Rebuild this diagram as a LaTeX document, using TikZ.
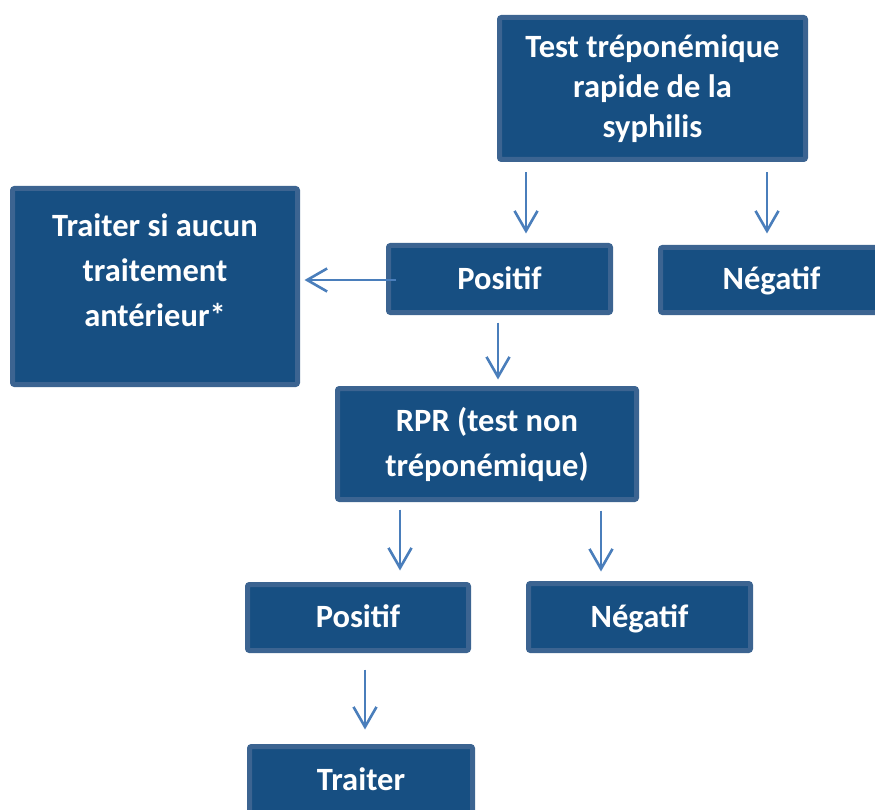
\documentclass[tikz,border=0pt]{standalone}
\usepackage{fontspec}
\setmainfont{Carlito}
\usetikzlibrary{positioning,arrows.meta}
\definecolor{BoxBlue}{HTML}{174F82}
\definecolor{BoxEdge}{HTML}{3C6491}
\definecolor{ArrBlue}{HTML}{4A7EBB}

\begin{document}
\begin{tikzpicture}[x=1pt, y=-1pt,
        box/.style={draw=BoxEdge, fill=BoxBlue, line width=5pt, rounded corners=2pt,
                    text=white, align=center, inner sep=0pt,
                    font=\fontsize{32.5}{40}\selectfont\bfseries},
        oneline/.style={text height=22pt, text depth=2pt},
        loose/.style={font=\fontsize{32.5}{45}\selectfont\bfseries},
        arr/.style={draw=ArrBlue, line width=2.6pt,
                    -{Straight Barb[length=20pt, width=23pt, line width=2.6pt]}},
      ]
      \useasboundingbox (0,0) rectangle (875,810);
      % boxes
      \node[box, minimum width=306, minimum height=142] (test) at (652.5,88.5)
            {Test tréponémique\\rapide de la\\syphilis};
      \node[box, loose, minimum width=285, minimum height=196] (treat0) at (155,286.5)
            {Traiter si aucun\\traitement\\antérieur*\\[-12pt]\mbox{}};
      \node[box, oneline, minimum width=222, minimum height=67] (pos1) at (499.5,279) {Positif};
      \node[box, oneline, minimum width=222, minimum height=65] (neg1) at (771.5,280) {Négatif};
      \node[box, loose, minimum width=299, minimum height=111] (rpr) at (487,444)
            {RPR (test non\\tréponémique)};
      \node[box, oneline, minimum width=221, minimum height=66] (pos2) at (358,617.5) {Positif};
      \node[box, oneline, minimum width=222, minimum height=67] (neg2) at (639.5,617) {Négatif};
      \node[box, oneline, minimum width=223, minimum height=67] (treat1) at (361,780) {Traiter};
      % arrows
      \draw[arr] ([xshift=-126.5pt, yshift=-10.5pt]test.south) -- ([xshift=26.5pt, yshift=9.5pt]pos1.north);
      \draw[arr] ([xshift=114.5pt, yshift=-10.5pt]test.south) -- ([xshift=-4.5pt, yshift=11.5pt]neg1.north);
      \draw[arr] ([xshift=9.5pt, yshift=-1pt]pos1.west) -- ([xshift=4.5pt, yshift=6.5pt]treat0.east);
      \draw[arr] ([xshift=-1.5pt, yshift=-7.5pt]pos1.south) -- ([xshift=11pt, yshift=6.5pt]rpr.north);
      \draw[arr] ([xshift=-87pt, yshift=-7.5pt]rpr.south) -- ([xshift=42pt, yshift=11.5pt]pos2.north);
      \draw[arr] ([xshift=114pt, yshift=-8.5pt]rpr.south) -- ([xshift=-38.5pt, yshift=9.5pt]neg2.north);
      \draw[arr] ([xshift=7pt, yshift=-16.5pt]pos2.south) -- ([xshift=4pt, yshift=14.5pt]treat1.north);
    \end{tikzpicture}
\end{document}
